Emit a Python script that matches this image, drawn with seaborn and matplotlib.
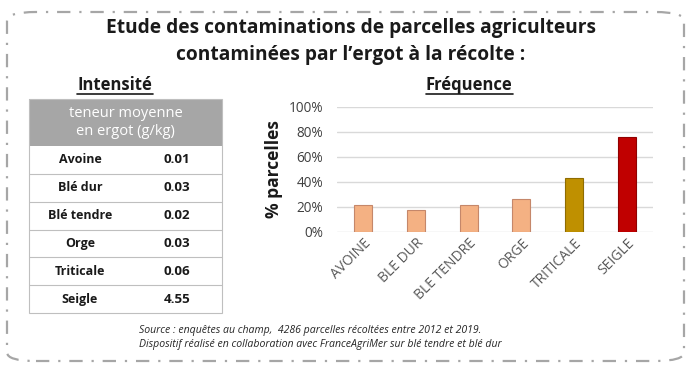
import matplotlib
matplotlib.use("Agg")
import matplotlib.pyplot as plt
import seaborn as sns
import pandas as pd
from matplotlib.patches import FancyBboxPatch, Rectangle
from matplotlib.lines import Line2D

# ---- data ----
title_lines = ["Etude des contaminations de parcelles agriculteurs",
               "contaminées par l’ergot à la récolte :"]
table_crops = ["Avoine", "Blé dur", "Blé tendre", "Orge", "Triticale", "Seigle"]
table_values = ["0.01", "0.03", "0.02", "0.03", "0.06", "4.55"]
table_header = "teneur moyenne\nen ergot (g/kg)"
chart_categories = ["AVOINE", "BLE DUR", "BLE TENDRE", "ORGE", "TRITICALE", "SEIGLE"]
chart_values = [0.21, 0.17, 0.21, 0.26, 0.43, 0.76]
bar_colors = ["#F4B183", "#F4B183", "#F4B183", "#F4B183", "#BF9000", "#C00000"]
edge_colors = ["#C5876A", "#C5876A", "#C5876A", "#C5876A", "#8F6C00", "#900000"]
y_ticks = [0, 0.2, 0.4, 0.6, 0.8, 1.0]
y_tick_labels = ["0%", "20%", "40%", "60%", "80%", "100%"]
source_lines = ["Source : enquêtes au champ,  4286 parcelles récoltées entre 2012 et 2019.",
                "Dispositif réalisé en collaboration avec FranceAgriMer sur blé tendre et blé dur"]

W, H = 690, 376
sns.set_theme(style="white")
plt.rcParams["font.family"] = ["Open Sans", "DejaVu Sans"]

fig = plt.figure(figsize=(W / 100, H / 100), dpi=100)

def fx(x):
    return x / W

def fy(y):
    return 1 - y / H

# border
border = FancyBboxPatch((fx(7), fy(361)), fx(677), (361 - 12) / H,
                        boxstyle="round,pad=0,rounding_size=0.042",
                        transform=fig.transFigure, fill=False,
                        edgecolor="#A6A6A6", linewidth=1.6,
                        linestyle=(0, (6, 4, 1, 4)), mutation_aspect=H / W)
fig.patches.append(border)

# title
fig.text(fx(351), fy(28), title_lines[0], ha="center", va="center",
         fontsize=13.8, fontweight="bold", color="#1a1a1a")
fig.text(fx(351), fy(55), title_lines[1], ha="center", va="center",
         fontsize=13.8, fontweight="bold", color="#1a1a1a")

# sub titles
fig.text(fx(115), fy(85), "Intensité", ha="center", va="center",
         fontsize=12, fontweight="bold", color="#1a1a1a")
fig.text(fx(469), fy(85), "Fréquence", ha="center", va="center",
         fontsize=12, fontweight="bold", color="#1a1a1a")
fig.add_artist(Line2D([fx(77), fx(153)], [fy(94), fy(94)], color="#1a1a1a", lw=1.2))
fig.add_artist(Line2D([fx(426), fx(513)], [fy(94), fy(94)], color="#1a1a1a", lw=1.2))

# table
tx0, tx1 = 29, 222
hy0, hy1 = 99, 146
row_h = (313 - 146) / 6
fig.patches.append(Rectangle((fx(tx0), fy(hy1)), fx(tx1 - tx0), (hy1 - hy0) / H,
                             transform=fig.transFigure, facecolor="#A6A6A6",
                             edgecolor="none"))
fig.text(fx((tx0 + tx1) / 2), fy((hy0 + hy1) / 2), table_header, ha="center",
         va="center", fontsize=10.5, color="white", linespacing=1.25)
fig.patches.append(Rectangle((fx(tx0), fy(313)), fx(tx1 - tx0), (313 - hy0) / H,
                             transform=fig.transFigure, facecolor="none",
                             edgecolor="#BFBFBF", linewidth=0.8))
for i, (crop, val) in enumerate(zip(table_crops, table_values)):
    yc = hy1 + row_h * (i + 0.5)
    fig.text(fx(80), fy(yc), crop, ha="center", va="center",
             fontsize=9, fontweight="bold", color="#1a1a1a")
    fig.text(fx(177), fy(yc), val, ha="center", va="center",
             fontsize=9.6, fontweight="bold", color="#1a1a1a")
    if i > 0:
        yl = hy1 + row_h * i
        fig.add_artist(Line2D([fx(tx0), fx(tx1)], [fy(yl), fy(yl)],
                              color="#BFBFBF", lw=0.8))

# bar chart
ax = fig.add_axes([fx(337), fy(231.7), fx(653 - 337), (231.7 - 106.7) / H])
df = pd.DataFrame({"cat": chart_categories, "val": chart_values})
sns.barplot(data=df, x="cat", y="val", hue="cat", palette=bar_colors,
            saturation=1, width=0.34, legend=False, ax=ax, zorder=3)
for p, ec in zip(ax.patches, edge_colors):
    p.set_edgecolor(ec)
    p.set_linewidth(0.8)
ax.set_ylim(0, 1.0)
ax.set_xlim(-0.5, len(chart_categories) - 0.5)
ax.set_yticks(y_ticks)
ax.set_yticklabels(y_tick_labels, fontsize=9.8, color="#404040")
ax.yaxis.grid(True, color="#D9D9D9", linewidth=1)
ax.set_axisbelow(True)
for s in ax.spines.values():
    s.set_visible(False)
ax.tick_params(axis="y", length=0, pad=10)
ax.tick_params(axis="x", length=0, pad=3)
ax.set_xticks(range(len(chart_categories)))
ax.set_xticklabels(chart_categories, rotation=45, ha="right",
                   rotation_mode="anchor", fontsize=10, color="#595959")
ax.set_xlabel("")
ax.set_ylabel("% parcelles", fontsize=12.5, fontweight="bold", color="#1a1a1a",
              labelpad=4)

# source
fig.text(fx(139), fy(331), source_lines[0], ha="left", va="center",
         fontsize=7.6, style="italic", color="#262626")
fig.text(fx(139), fy(345), source_lines[1], ha="left", va="center",
         fontsize=7.6, style="italic", color="#262626")

fig.savefig("out.png", dpi=100)
